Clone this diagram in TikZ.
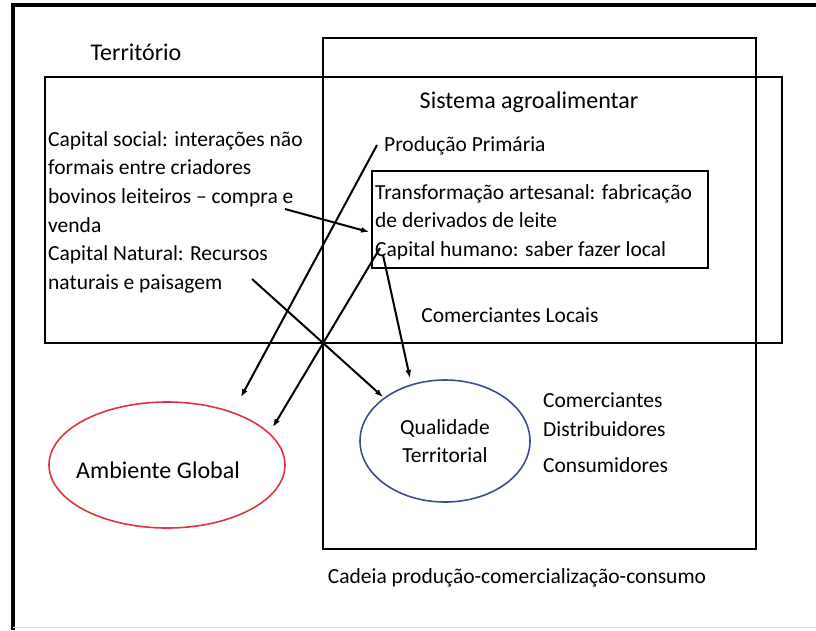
\documentclass[tikz,border=0pt]{standalone}
\usepackage{fontspec}
\setmainfont{Carlito}
\usetikzlibrary{arrows.meta,shapes.geometric}

\definecolor{vermelho}{RGB}{222,52,64}
\definecolor{azul}{RGB}{58,78,138}

\begin{document}
\begin{tikzpicture}[x=1pt,y=-1pt,
    caixa/.style={draw,line width=2.6pt},
    seta/.style={line width=2pt,-{Latex[length=8pt,width=6pt]}},
    texto/.style={inner sep=0pt,font=\fontsize{21.5}{28.6}\selectfont},
    titulo/.style={inner sep=0pt,font=\fontsize{24}{28}\selectfont},
    oval/.style={ellipse,line width=1.6pt,inner sep=0pt}]
    \useasboundingbox (0,0) rectangle (816,630);
    % moldura
    \draw[line width=4.5pt] (816,5) -- (13,5) -- (13,630);
    \draw[black!12,line width=1pt] (13,627) -- (816,627);
    % caixas
    \draw[caixa] (45,77) rectangle (782,343);
    \draw[caixa] (323,38) rectangle (756,549);
    \draw[caixa] (372,171) rectangle (708,268);
        \node[titulo] (territorio) at (136,52) {Território};
        \node[titulo] (sistema) at (529,102) {Sistema agroalimentar};
        \node[texto,anchor=west] (capital) at (48,212) {\begin{tabular}{@{}l@{}}Capital social: interações não\\formais entre criadores\\bovinos leiteiros -- compra e\\venda\\Capital Natural: Recursos\\naturais e paisagem\end{tabular}};
        \node[texto,anchor=west] (producao) at (384,146) {Produção Primária};
        \node[texto,anchor=west] (transf) at (375,222) {\begin{tabular}{@{}l@{}}Transformação artesanal: fabricação\\de derivados de leite\\Capital humano: saber fazer local\end{tabular}};
        \node[texto] (locais) at (510,315) {Comerciantes Locais};
        \node[oval,draw=vermelho,minimum width=236,minimum height=126] (ambiente) at (167,465) {};
        \node[titulo] at (ambiente.center) [xshift=-9pt,yshift=-5pt] {Ambiente Global};
        \node[oval,draw=azul,minimum width=170,minimum height=122] (qualidade) at (445,441) {};
        \node[texto,align=center] at (qualidade.center) {Qualidade\\Territorial};
        \node[texto,anchor=west] (comerciantes) at (543,400) {Comerciantes};
        \node[texto,anchor=west] (distrib) at (543,429) {Distribuidores};
        \node[texto,anchor=west] (consum) at (543,465) {Consumidores};
        \node[texto] (cadeia) at (517,578) {Cadeia produção-comercialização-consumo};
    % setas
    \coordinate (pA) at (377,145); \coordinate (qA) at (241,397);
    \coordinate (pB) at (285,209); \coordinate (qB) at (369,232);
    \coordinate (pC) at (380,248); \coordinate (qC) at (273,427);
    \coordinate (pD) at (383,255); \coordinate (qD) at (410,378);
    \coordinate (pE) at (252,279); \coordinate (qE) at (383,397);
        \draw[seta] (pA) -- (qA);
        \draw[seta] (pB) -- (qB);
        \draw[seta] (pC) -- (qC);
        \draw[seta] (pD) -- (qD);
        \draw[seta] (pE) -- (qE);
\end{tikzpicture}
\end{document}
